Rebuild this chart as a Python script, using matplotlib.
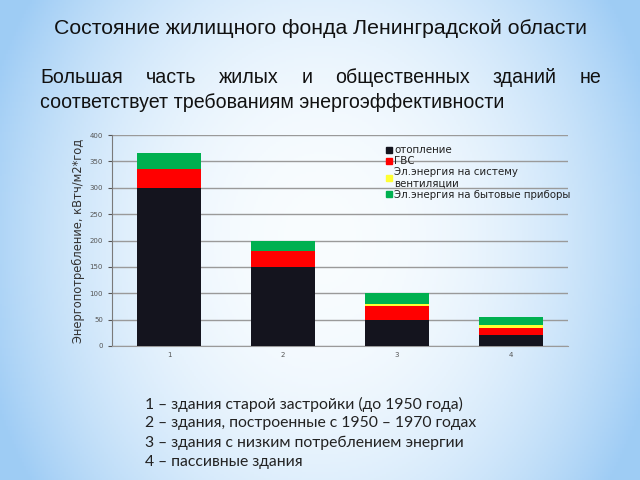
import numpy as np
import matplotlib.pyplot as plt
from matplotlib.lines import Line2D

# data
categories = ["1", "2", "3", "4"]
heating = [300, 150, 50, 20]
hot_water = [35, 30, 25, 15]
ventilation = [0, 0, 5, 5]
appliances = [30, 20, 20, 15]

series_names = ["отопление", "ГВС", "Эл.энергия на систему\nвентиляции",
                "Эл.энергия на бытовые приборы"]
series_colors = ["#14141e", "#ff0000", "#ffff33", "#00b050"]

title = "Состояние жилищного фонда Ленинградской области"
para_line1 = ["Большая", "часть", "жилых", "и", "общественных", "зданий", "не"]
para_line2 = "соответствует требованиям энергоэффективности"
notes = [
    "1 – здания старой застройки (до 1950 года)",
    "2 – здания, построенные с 1950 – 1970 годах",
    "3 – здания с низким потреблением энергии",
    "4 – пассивные здания",
]

W, H = 640, 480
fig = plt.figure(figsize=(W / 100, H / 100), dpi=100)

# --- background gradient: white centre, light blue edges ---
bg = fig.add_axes([0, 0, 1, 1], zorder=-10)
xx, yy = np.meshgrid(np.linspace(-1, 1, 320), np.linspace(-1, 1, 240))
d = np.clip(np.sqrt((xx / 1.1) ** 2 + (yy / 1.8) ** 2), 0, 1) ** 2.2
c_in = np.array([0.975, 0.99, 1.0])
c_out = np.array([0.62, 0.80, 0.96])
img = c_in[None, None, :] * (1 - d[..., None]) + c_out[None, None, :] * d[..., None]
bg.imshow(img, aspect="auto", extent=[0, 1, 0, 1], origin="lower")
bg.set_axis_off()

# --- chart ---
ax = fig.add_axes([112 / W, 1 - 346 / H, 456 / W, 211 / H])
ax.patch.set_alpha(0)
x = np.arange(len(categories))
bottom = np.zeros(len(categories))
for vals, col in zip([heating, hot_water, ventilation, appliances], series_colors):
    ax.bar(x, vals, width=0.57, bottom=bottom, color=col, zorder=3)
    bottom += np.array(vals)

ax.set_xlim(-0.5, 3.5)
ax.set_ylim(0, 400)
ax.set_yticks(range(0, 401, 50))
ax.set_xticks(x, categories)
ax.yaxis.grid(True, color="#9a9a9a", lw=1.0, zorder=0)
ax.tick_params(axis="both", labelsize=5, colors="#555555", length=3, width=0.8)
ax.tick_params(axis="x", length=0, pad=4)
for s in ["top", "right"]:
    ax.spines[s].set_visible(False)
ax.spines["left"].set_color("#7a7a7a")
ax.spines["bottom"].set_color("#9a9a9a")
ax.set_ylabel("Энергопотребление, кВтч/м2*год", fontsize=8.3, color="#333333", labelpad=3)

handles = [Line2D([], [], marker="s", ls="", color=c, markersize=5) for c in series_colors]
fig.legend(handles, series_names, loc="upper left", bbox_to_anchor=(381 / W, 1 - 140 / H),
           frameon=False, fontsize=7.4, handlelength=0.6, handletextpad=0.2,
           labelspacing=0.1, borderpad=0, labelcolor="#222222")

# --- texts ---
fig.text(320 / W, 1 - 34 / H, title, ha="center", va="baseline", fontsize=15.3,
         family="Liberation Sans", color="#111111")

# justified first line of the paragraph
fig.canvas.draw()
rend = fig.canvas.get_renderer()
x0, x1 = 40, 601
words = [fig.text(0, 1 - 83 / H, w, fontsize=14.1, family="Liberation Sans",
                  color="#111111", va="baseline") for w in para_line1]
widths = [t.get_window_extent(rend).width for t in words]
gap = (x1 - x0 - sum(widths)) / (len(words) - 1)
pos = x0
for t, w in zip(words, widths):
    t.set_x(pos / W)
    pos += w + gap
fig.text(x0 / W, 1 - 108 / H, para_line2, fontsize=14.1, family="Liberation Sans",
         color="#111111", va="baseline")

for i, line in enumerate(notes):
    fig.text(145 / W, 1 - (404 + i * 19.3) / H, line, fontsize=11.3, family="Lato",
             color="#222222", va="center")

fig.savefig("out.png", dpi=100)
